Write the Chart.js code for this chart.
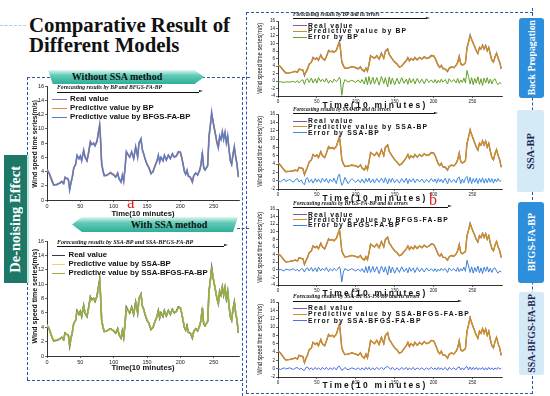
<!DOCTYPE html>
<html><head><meta charset="utf-8">
<script src="https://cdn.jsdelivr.net/npm/chart.js@4/dist/chart.umd.min.js"></script>
<style>
html,body{margin:0;padding:0;background:#fff;}
#stage{position:relative;width:550px;height:396px;overflow:hidden;background:#fff;font-family:"Liberation Sans",Arial,sans-serif;}
.a{position:absolute;white-space:nowrap;}
canvas{position:absolute;}
.serif{font-family:"Liberation Serif","Times New Roman",serif;}
.hd{position:absolute;border:0 dashed #2b55a8;}
.vbox{position:absolute;display:flex;align-items:center;justify-content:center;}
.vbox span{writing-mode:vertical-rl;transform:rotate(180deg);white-space:nowrap;}
.vbox span.nar{transform:rotate(180deg) scale(1,0.8);}
.leg{position:absolute;white-space:nowrap;font-weight:bold;color:#111;}
.sw{position:absolute;height:0;}
.cap{position:absolute;white-space:nowrap;font-family:"Liberation Serif",serif;font-style:italic;font-weight:bold;color:#111;line-height:1;}
.arr{position:absolute;height:0;border-top:0.9px solid #111;}
.tip{position:absolute;width:0;height:0;border-left:4px solid #111;border-top:1.6px solid transparent;border-bottom:1.6px solid transparent;}
</style></head>
<body>
<div id="stage">
  <!-- title -->
  <div class="a serif" style="left:29px;top:15px;font-size:20.8px;line-height:20px;font-weight:bold;color:#111;">Comparative Result of<br>Different Models</div>

  <!-- dashed frames -->
  <div class="hd" style="left:0;top:25px;width:26px;border-top-width:1px;border-color:#8fdcea;"></div>
  <div class="hd" style="left:27px;top:77px;width:223px;border-top-width:1px;"></div>
  <div class="hd" style="left:27px;top:77px;height:303px;border-left-width:1px;"></div>
  <div class="hd" style="left:27px;top:380px;width:216px;border-top-width:1px;"></div>
  <div class="hd" style="left:242px;top:77px;height:319px;border-left-width:1px;"></div>
  <div class="hd" style="left:237px;top:228px;width:12px;border-top-width:1px;"></div>
  <div class="hd" style="left:246px;top:12px;width:287px;border-top-width:1px;"></div>
  <div class="hd" style="left:246px;top:12px;height:381px;border-left-width:1px;"></div>
  <div class="hd" style="left:246px;top:393px;width:287px;border-top-width:1px;"></div>
  <div class="hd" style="left:532px;top:8px;height:386px;border-left-width:1px;"></div>

  <!-- side label: De-noising Effect -->
  <div class="vbox serif" style="left:4px;top:155px;width:23px;height:128px;background:#1d7868;border-right:2px solid #bfe6dd;color:#fff;font-weight:bold;font-size:14.5px;"><span>De-noising Effect</span></div>

  <!-- right side labels -->
  <div class="vbox serif" style="left:519px;top:18px;width:25px;height:80px;background:#2d8edb;border-radius:3px;color:#fff;font-weight:bold;font-size:9.8px;"><span>Back Propagation</span></div>
  <div class="vbox serif" style="left:517px;top:110px;width:27px;height:82px;background:#d4eaf7;border-radius:2px;color:#1b2550;font-weight:bold;font-size:10.5px;"><span>SSA-BP</span></div>
  <div class="vbox serif" style="left:518px;top:202px;width:26px;height:81px;background:#2d8edb;border-radius:3px;color:#fff;font-weight:bold;font-size:10px;"><span>BFGS-FA-BP</span></div>
  <div class="vbox serif" style="left:519px;top:292px;width:25px;height:83px;background:#d4eaf7;border-radius:2px;color:#1b2550;font-weight:bold;font-size:9.9px;"><span>SSA-BFGS-FA-BP</span></div>

  <!-- banners -->
  <div class="a" style="left:48px;top:70px;width:156px;height:14px;background:linear-gradient(to bottom,#e3f6f1 0%,#62cbb8 38%,#2fae98 100%);clip-path:polygon(0 0,94% 0,100% 50%,94% 100%,3% 100%);"></div>
  <div class="a serif" style="left:48px;top:70px;width:138px;height:14px;line-height:14px;text-align:center;font-weight:bold;font-size:10px;color:#111;">Without SSA method</div>
  <div class="a" style="left:72px;top:217px;width:166px;height:15px;background:linear-gradient(to bottom,#e3f6f1 0%,#62cbb8 38%,#2fae98 100%);clip-path:polygon(0 50%,6% 0,100% 0,97% 100%,6% 100%);"></div>
  <div class="a serif" style="left:86px;top:217px;width:166px;height:15px;line-height:15px;text-align:center;font-weight:bold;font-size:10px;color:#111;">With SSA method</div>

  <canvas id="cA1"></canvas>
  <canvas id="cA2"></canvas>
  <canvas id="cB1"></canvas>
  <canvas id="cB2"></canvas>
  <canvas id="cB3"></canvas>
  <canvas id="cB4"></canvas>

  <!-- captions with arrows -->
  <div class="cap" style="left:57px;top:85.2px;font-size:5.7px;">Forecasting results by BP and BFGS-FA-BP</div>
  <div class="arr" style="left:57px;top:91.5px;width:142px;"></div><div class="tip" style="left:199px;top:90.3px;"></div>
  <div class="cap" style="left:57px;top:239px;font-size:6px;">Forecasting results by SSA-BP and SSA-BFGS-FA-BP</div>
  <div class="arr" style="left:57px;top:245.5px;width:167px;"></div><div class="tip" style="left:224px;top:244.3px;"></div>
  <div class="cap" style="left:293px;top:12px;font-size:5.3px;">Forecasting results by BP and its errors</div>
  <div class="arr" style="left:293px;top:18.2px;width:133px;"></div><div class="tip" style="left:426px;top:17px;"></div>
  <div class="cap" style="left:293px;top:107px;font-size:5.3px;">Forecasting results by SSA-BP and its errors</div>
  <div class="arr" style="left:293px;top:113px;width:141px;"></div><div class="tip" style="left:434px;top:111.8px;"></div>
  <div class="cap" style="left:293px;top:200.5px;font-size:5.5px;">Forecasting results by BFGS-FA-BP and its errors</div>
  <div class="arr" style="left:293px;top:206.5px;width:155px;"></div><div class="tip" style="left:448px;top:205.3px;"></div>
  <div class="cap" style="left:293px;top:294.3px;font-size:5.5px;">Forecasting results by SSA-BFGS-FA-BP and its errors</div>
  <div class="arr" style="left:293px;top:300.8px;width:165px;"></div><div class="tip" style="left:458px;top:299.6px;"></div>

  <!-- legends left -->
  <div class="sw" style="left:52px;top:99px;width:15px;border-top:1.5px solid #8a6fbf;"></div>
  <div class="leg" style="left:70px;top:95px;font-size:7.8px;line-height:8px;">Real value</div>
  <div class="sw" style="left:52px;top:108px;width:15px;border-top:1.5px solid #e8893a;"></div>
  <div class="leg" style="left:70px;top:104px;font-size:7.8px;line-height:8px;">Predictive value by BP</div>
  <div class="sw" style="left:52px;top:117px;width:15px;border-top:1.5px solid #4f7fc8;"></div>
  <div class="leg" style="left:70px;top:113px;font-size:7.8px;line-height:8px;">Predictive value by BFGS-FA-BP</div>

  <div class="sw" style="left:52px;top:255px;width:13px;border-top:1.5px solid #3b3550;"></div>
  <div class="leg" style="left:68.5px;top:251px;font-size:7.8px;line-height:8px;">Real value</div>
  <div class="sw" style="left:52px;top:263.5px;width:13px;border-top:1.5px solid #e9d27a;"></div>
  <div class="leg" style="left:68.5px;top:259.5px;font-size:7.8px;line-height:8px;">Predictive value by SSA-BP</div>
  <div class="sw" style="left:52px;top:272.5px;width:13px;border-top:1.5px solid #8fb33a;"></div>
  <div class="leg" style="left:68.5px;top:268.5px;font-size:7.8px;line-height:8px;">Predictive value by SSA-BFGS-FA-BP</div>

  <!-- legends right -->
  <div id="rightLegends"></div>

  <!-- axis titles -->
  <div class="vbox" style="left:29px;top:84px;width:10px;height:120px;font-weight:bold;font-size:6.5px;color:#111;"><span>Wind speed time series(m/s)</span></div>
  <div class="vbox" style="left:29px;top:236px;width:10px;height:120px;font-weight:bold;font-size:7px;color:#111;"><span>Wind speed time series(m/s)</span></div>
  <div class="a" style="left:83px;top:208.5px;width:120px;text-align:center;font-weight:bold;font-size:7.7px;line-height:9px;color:#111;">Time(10 minutes)</div>
  <div class="a" style="left:83px;top:362.5px;width:120px;text-align:center;font-weight:bold;font-size:7.7px;line-height:9px;color:#111;">Time(10 minutes)</div>
  <div id="rightTitles"></div>

  <div class="a serif" style="left:127px;top:194px;font-size:17px;line-height:17px;color:#d41f1f;">a</div>
  <div class="a serif" style="left:429px;top:192px;font-size:16px;line-height:16px;color:#d41f1f;">b</div>
</div>

<script>
// ---- data ----
const timeSteps = [0,3,8,10,15,20,22,25,27,30, 32,34,36,38,40,43,45,48,50,52, 55,57,60,62,65,67,70,72,75,77,
  79,80,82,84,86,90,95,100,103,106, 108,111,113,115,117,119,122,124,127,130, 133,136,138,141,143,145,147,150,153,156,
  159,162,165,167,169,171,174,176,179,182, 185,188,191,194,197,200,202,204,206,208, 210,212,215,218,220,223,226,229,231,233,
  235,237,239,241,243,245,247,249,251,253, 255,257,259,261,263,265,267,269,271,273, 275,277,279,281,283,285,287];

const realValue = [4.3,3.8,2.5,2.1,2.2,2.4,2.6,2.3,3.2,3.0, 2.9,1.4,2.5,3.3,4.5,5.0,6.3,5.8,6.2,5.5, 7.0,6.0,5.5,6.5,8.2,7.8,8.0,7.6,8.3,9.5,
  10.6,9.0,5.0,4.0,3.4,3.5,3.8,3.5,3.2,3.8, 3.0,2.5,3.5,2.6,4.5,6.8,6.3,6.0,6.8,5.8, 7.5,6.0,8.0,8.6,7.0,6.5,5.8,5.0,4.5,3.7,
  4.0,4.8,5.5,6.3,5.3,6.0,5.5,6.3,5.6,6.3, 5.8,6.5,6.0,6.2,6.8,6.7,6.0,5.0,4.0,3.6, 4.2,3.3,3.2,2.5,3.4,3.8,3.5,4.2,5.0,6.7,
  4.5,4.2,4.5,4.8,9.0,10.5,12.3,11.0,10.0,9.0, 8.0,7.3,9.0,8.5,9.6,8.5,9.5,8.0,9.0,7.0, 5.5,5.0,6.5,7.5,6.0,5.0,3.2];

const bpPredict = [4.1,3.9,2.7,2.2,2.1,2.5,2.5,2.4,3.0,3.1, 2.8,1.7,2.3,3.1,4.3,5.1,6.0,5.9,6.0,5.7, 6.8,6.2,5.6,6.3,8.0,7.9,7.8,7.7,8.1,9.2,
  10.2,9.3,5.4,4.2,3.5,3.4,3.9,3.6,3.3,3.6, 3.1,2.7,3.3,2.8,4.3,6.5,6.4,6.1,6.6,5.9, 7.2,6.2,7.8,8.4,7.2,6.4,5.9,5.1,4.6,3.8,
  3.9,4.7,5.4,6.1,5.5,5.9,5.6,6.1,5.7,6.2, 5.9,6.3,6.1,6.1,6.6,6.8,6.1,5.2,4.2,3.7, 4.0,3.5,3.1,2.7,3.3,3.7,3.6,4.1,4.9,6.4,
  4.7,4.3,4.4,4.9,8.6,10.3,11.9,11.2,10.1,9.2, 8.1,7.5,8.8,8.6,9.4,8.7,9.3,8.2,8.8,7.2, 5.7,5.1,6.3,7.3,6.2,5.1,3.4];

const bfgsPredict = [4.2,3.8,2.6,2.1,2.2,2.4,2.6,2.3,3.1,3.0, 2.9,1.5,2.4,3.2,4.4,5.0,6.2,5.8,6.1,5.6, 6.9,6.1,5.5,6.4,8.1,7.8,7.9,7.6,8.2,9.4,
  10.5,9.1,5.1,4.1,3.4,3.5,3.8,3.5,3.2,3.7, 3.0,2.6,3.4,2.7,4.4,6.7,6.3,6.0,6.7,5.8, 7.4,6.1,7.9,8.5,7.1,6.5,5.8,5.0,4.5,3.7,
  4.0,4.8,5.5,6.2,5.4,6.0,5.5,6.2,5.6,6.3, 5.8,6.4,6.0,6.2,6.7,6.7,6.0,5.1,4.1,3.6, 4.1,3.4,3.2,2.6,3.4,3.8,3.5,4.2,5.0,6.6,
  4.6,4.2,4.5,4.8,8.9,10.4,12.1,11.1,10.0,9.1, 8.0,7.4,8.9,8.5,9.5,8.6,9.4,8.1,8.9,7.1, 5.6,5.0,6.4,7.4,6.1,5.0,3.3];

const ssaBpPredict = [4.4,3.7,2.6,2.2,2.3,2.3,2.5,2.4,3.1,3.1, 2.8,1.6,2.4,3.4,4.4,5.1,6.1,5.9,6.1,5.6, 6.9,6.1,5.6,6.4,8.1,7.7,7.9,7.7,8.2,9.3,
  10.4,9.2,5.2,4.1,3.5,3.5,3.7,3.6,3.3,3.7, 3.1,2.6,3.4,2.7,4.6,6.6,6.4,6.1,6.7,5.9, 7.4,6.1,7.9,8.5,7.1,6.4,5.9,5.1,4.4,3.8,
  4.1,4.7,5.6,6.2,5.4,5.9,5.6,6.2,5.7,6.2, 5.9,6.4,6.1,6.1,6.7,6.6,6.1,5.1,4.1,3.7, 4.1,3.4,3.3,2.6,3.3,3.7,3.6,4.1,5.1,6.5,
  4.6,4.3,4.4,4.9,8.8,10.4,12.0,11.1,10.1,9.1, 8.1,7.4,8.9,8.6,9.5,8.6,9.4,8.1,8.9,7.1, 5.6,5.1,6.4,7.4,6.1,5.1,3.3];

const ssaBfgsPredict = [4.2,3.8,2.5,2.1,2.2,2.4,2.6,2.3,3.2,3.0, 2.9,1.5,2.5,3.3,4.5,5.0,6.3,5.8,6.2,5.5, 7.0,6.0,5.5,6.5,8.2,7.8,8.0,7.6,8.3,9.5,
  10.5,9.0,5.0,4.0,3.4,3.5,3.8,3.5,3.2,3.8, 3.0,2.5,3.5,2.6,4.5,6.7,6.3,6.0,6.8,5.8, 7.5,6.0,7.9,8.6,7.0,6.5,5.8,5.0,4.5,3.7,
  4.0,4.8,5.5,6.3,5.3,6.0,5.5,6.3,5.6,6.3, 5.8,6.5,6.0,6.2,6.7,6.7,6.0,5.0,4.0,3.6, 4.2,3.3,3.2,2.5,3.4,3.8,3.5,4.2,5.0,6.7,
  4.5,4.2,4.5,4.8,9.0,10.5,12.2,11.0,10.0,9.0, 8.0,7.3,9.0,8.5,9.6,8.5,9.5,8.0,9.0,7.0, 5.5,5.0,6.5,7.5,6.0,5.0,3.2];

const bpError = [-0.3,-0.2,-0.4,-0.2,-0.3,-0.1,-0.4,0.1,-0.5,0.2, 0.3,-0.9,0.4,0.6,-0.4,0.8,-0.5,0.6,-0.6,0.9, -0.2,0.5,-0.3,0.7,-0.6,0.2,-0.4,0.5,-0.2,0.3,
  1.0,0.5,-3.8,-0.8,0.4,-0.3,0.2,-0.4,0.3,-0.5, 0.4,-0.8,1.0,-1.0,1.2,-0.9,1.0,-0.8,0.9,-1.1, 1.2,-0.7,0.9,-1.6,1.1,-0.9,0.8,-1.0,0.7,-0.8,
  0.9,-0.6,0.5,-0.9,0.8,-0.5,0.6,-0.8,0.7,-0.6, 0.5,-0.7,0.6,-0.4,0.3,-0.5,0.4,-0.6,0.2,-0.4, 0.5,-0.3,0.4,-0.8,0.6,-0.3,0.4,-0.5,0.7,-0.6,
  0.3,-0.4,0.8,-0.5,2.8,1.2,-0.8,0.9,-1.0,0.7, -0.6,1.1,-0.9,0.6,-1.2,0.8,-0.5,0.9,-0.7,0.5, -0.8,0.3,0.6,-0.4,-1.0,-0.4,-0.7];

const ssaBpError = [0.1,-0.3,0.4,-0.2,0.3,-0.4,0.2,0.5,-0.3,0.2, -0.6,-1.0,0.5,0.7,-0.4,0.3,-0.6,0.5,-0.3,0.4, -0.5,0.6,-0.3,0.5,-0.6,0.4,-0.3,0.6,-0.7,0.9,
  1.6,0.4,-1.1,-0.5,0.8,-0.7,0.5,-0.4,0.3,-0.5, 0.4,-0.6,0.5,-0.3,0.6,-0.5,0.4,-0.6,0.5,-0.4, 0.6,-0.5,0.7,-0.8,0.5,-0.4,0.6,-0.5,0.3,-0.6,
  0.5,-0.4,0.6,-0.7,0.4,-0.3,0.5,-0.5,0.4,-0.3, 0.4,-0.5,0.3,-0.4,0.5,-0.3,0.4,-0.6,0.5,-0.3, 0.4,-0.5,0.6,-0.8,0.5,-0.4,0.3,-0.5,0.6,0.9,
  -0.7,0.4,-0.5,0.6,1.0,-0.6,0.8,-0.7,0.5,-0.4, 0.6,-0.7,0.5,-0.4,0.7,-0.6,0.5,-0.5,0.6,-0.4, 0.5,-0.6,0.4,-0.3,0.5,-0.2,0.1];

const bfgsError = [-0.2,0.1,-0.3,0.2,-0.1,0.3,-0.2,0.1,-0.4,0.3, 0.2,-0.6,0.3,0.5,-0.3,0.6,-0.4,0.5,-0.5,0.7, -0.3,0.4,-0.2,0.6,-0.5,0.3,-0.3,0.4,-0.2,0.2,
  0.8,0.3,-3.2,-0.6,0.3,-0.2,0.3,-0.3,0.2,-0.4, 0.3,-0.7,0.8,-0.8,1.0,-0.7,0.9,-0.6,0.8,-1.0, 1.0,-0.6,0.8,-1.4,1.0,-0.8,0.7,-0.9,0.6,-0.7,
  0.8,-0.5,0.4,-0.8,0.7,-0.4,0.5,-0.7,0.6,-0.5, 0.4,-0.6,0.5,-0.3,0.3,-0.4,0.3,-0.5,0.2,-0.3, 0.4,-0.2,0.3,-0.7,0.5,-0.2,0.3,-0.4,0.6,-0.5,
  0.3,-0.3,0.7,-0.4,2.5,1.0,-0.7,0.8,-0.9,0.6, -0.5,1.0,-0.8,0.5,-1.0,0.7,-0.4,0.8,-0.6,0.4, -0.7,0.3,0.5,-0.3,-0.9,-0.3,-0.6];

const ssaBfgsError = [0.1,-0.2,0.2,-0.1,0.2,-0.2,0.1,0.3,-0.2,0.1, -0.3,-0.4,0.3,0.4,-0.2,0.2,-0.3,0.3,-0.2,0.2, -0.3,0.3,-0.2,0.3,-0.3,0.2,-0.2,0.3,-0.3,0.4,
  0.6,0.2,-0.4,-0.2,0.3,-0.3,0.2,-0.2,0.2,-0.3, 0.2,-0.3,0.3,-0.2,0.3,-0.3,0.2,-0.3,0.3,-0.2, 0.3,-0.2,0.3,0.5,0.2,-0.2,0.3,-0.3,0.2,-0.3,
  0.3,-0.2,0.3,-0.3,0.2,-0.2,0.3,-0.3,0.2,-0.2, 0.2,-0.3,0.2,-0.2,0.3,-0.2,0.2,-0.3,0.3,-0.2, 0.2,-0.3,0.3,-0.4,0.3,-0.2,0.2,-0.3,0.3,0.4,
  -0.3,0.2,-0.3,0.3,0.5,-0.3,0.4,-0.3,0.3,-0.2, 0.3,-0.3,0.2,-0.2,0.3,-0.3,0.2,-0.3,0.3,-0.2, 0.2,-0.3,0.2,-0.2,0.3,-0.1,0.1];

const xTicksMax = 288;
const yTicksMax = 16;

// ---- chart builder ----
function toPoints(vals){ return timeSteps.map((t,i)=>({x:t, y:vals[i]})); }

function makeChart(id, plot, yMin, lines, tickSize){
  const yW = 11, xH = 8, padT = 5, padR = 5;
  const cv = document.getElementById(id);
  cv.width = plot.w + yW + padR; cv.height = plot.h + xH + padT;
  cv.style.left = (plot.x - yW) + 'px'; cv.style.top = (plot.y - padT) + 'px';
  new Chart(cv, {
    type: 'line',
    data: { datasets: lines.map(l => ({ data: toPoints(l.values), borderColor: l.color, borderWidth: l.width,
      pointRadius: 0, tension: 0, fill: false })) },
    options: {
      responsive: false, animation: false, devicePixelRatio: 1,
      layout: { padding: { top: padT, right: padR, left: 0, bottom: 0 } },
      plugins: { legend: { display: false }, tooltip: { enabled: false } },
      scales: {
        x: { type: 'linear', min: 0, max: xTicksMax,
          ticks: { stepSize: 50, includeBounds: false, font: { size: tickSize, family: 'Liberation Sans' }, color: '#222', padding: 1, maxRotation: 0, autoSkip: false },
          grid: { display: true, drawOnChartArea: false, tickLength: 2, color: '#000', lineWidth: 0.6 },
          border: { display: true, color: '#000', width: 0.8 },
          afterFit: s => { s.height = xH; } },
        y: { type: 'linear', min: yMin, max: yTicksMax,
          ticks: { stepSize: 2, font: { size: tickSize, family: 'Liberation Sans' }, color: '#222', padding: 1, autoSkip: false },
          grid: { display: true, drawOnChartArea: false, tickLength: 2, color: '#000', lineWidth: 0.6 },
          border: { display: true, color: '#000', width: 0.8 },
          afterFit: s => { s.width = yW; } }
      }
    }
  });
}

makeChart('cA1', {x:47, y:86, w:192, h:114}, 0, [
  {values: bfgsPredict, color: '#4f7fc8', width: 1.2},
  {values: bpPredict, color: '#e8893a', width: 1.3},
  {values: realValue, color: '#8a6fbf', width: 1.6}
], 5.5);
makeChart('cA2', {x:47, y:241, w:192, h:115}, 0, [
  {values: ssaBfgsPredict, color: '#8fb33a', width: 1.3},
  {values: ssaBpPredict, color: '#e9d27a', width: 1.3},
  {values: realValue, color: '#3b3550', width: 1.6}
], 5.5);

const rightCharts = [
  {id:'cB1', plot:{x:278, y:21, w:224, h:75}, yMin:-4, pred:bpPredict, err:bpError, errColor:'#5e9f24',
   names:['Real value','Predictive value by BP','Error by BP'], rows:[25,30.7,36.5], titleY:105},
  {id:'cB2', plot:{x:278, y:114, w:224, h:75}, yMin:-2, pred:ssaBpPredict, err:ssaBpError, errColor:'#3a8be0',
   names:['Real value','Predictive value by SSA-BP','Error by SSA-BP'], rows:[120.7,126.2,132], titleY:198},
  {id:'cB3', plot:{x:278, y:209, w:224, h:76}, yMin:-4, pred:bfgsPredict, err:bfgsError, errColor:'#3f7fd8',
   names:['Real value','Predictive value by BFGS-FA-BP','Error by BFGS-FA-BP'], rows:[214,219.2,224.5], titleY:292.5},
  {id:'cB4', plot:{x:278, y:302, w:224, h:75}, yMin:-2, pred:ssaBfgsPredict, err:ssaBfgsError, errColor:'#4a6fe6',
   names:['Real value','Predictive value by SSA-BFGS-FA-BP','Error by SSA-BFGS-FA-BP'], rows:[307.5,313.8,320], titleY:385}
];
const realRightColor = '#7a5aa8', predRightColor = '#cf8f1f';
let legHtml = '', titleHtml = '';
rightCharts.forEach(c => {
  makeChart(c.id, c.plot, c.yMin, [
    {values: c.pred, color: predRightColor, width: 1.4},
    {values: realValue, color: realRightColor, width: 1.2},
    {values: c.err, color: c.errColor, width: 1}
  ], 4.6);
  const cols = [realRightColor, predRightColor, c.errColor];
  c.names.forEach((n,i) => {
    legHtml += `<div class="sw" style="left:293px;top:${c.rows[i]}px;width:14px;border-top:1.3px solid ${cols[i]};"></div>`;
    legHtml += `<div class="leg" style="left:308px;top:${c.rows[i]-3.5}px;font-size:6.8px;line-height:7px;letter-spacing:1.2px;">${n}</div>`;
  });
  const cy = c.plot.y + c.plot.h/2;
  titleHtml += `<div class="vbox" style="left:255px;top:${cy-50}px;width:9px;height:100px;font-size:7px;color:#111;"><span class="nar">Wind speed time series(m/s)</span></div>`;
  titleHtml += `<div class="a" style="left:300px;top:${c.titleY-5}px;width:150px;text-align:center;font-weight:bold;font-size:8.5px;line-height:10px;letter-spacing:2.2px;color:#111;">Time(10 minutes)</div>`;
});
document.getElementById('rightLegends').innerHTML = legHtml;
document.getElementById('rightTitles').innerHTML = titleHtml;
</script>
</body></html>
